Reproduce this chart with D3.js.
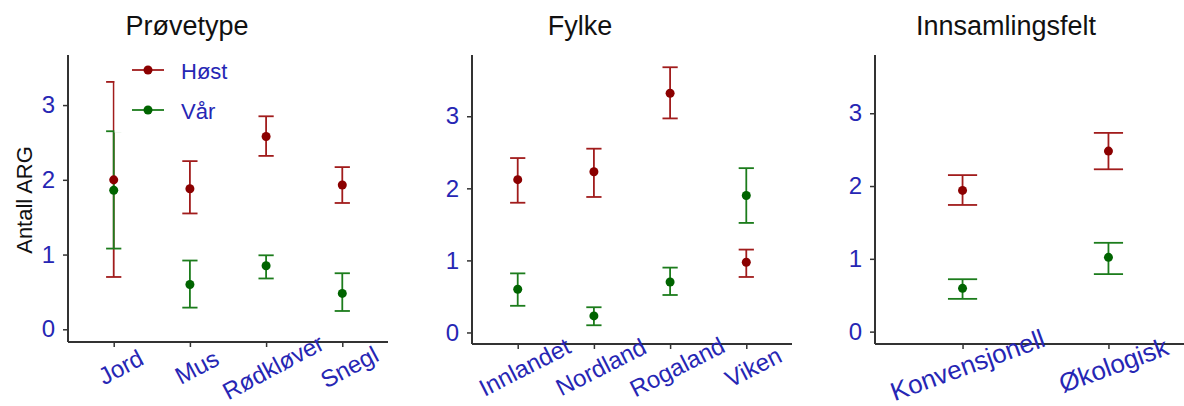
<!DOCTYPE html>
<html>
<head>
<meta charset="utf-8">
<title>Antall ARG</title>
<script src="https://cdn.jsdelivr.net/npm/d3@7"></script>
<style>
  body { margin: 0; background: #fff; }
  svg text { font-family: "Liberation Sans", Arial, sans-serif; }
</style>
</head>
<body>
<script>
// ---- data ----
var seasons = ["Høst", "Vår"];
var yTicks = [0, 1, 2, 3];

var provetype = ["Jord", "Mus", "Rødkløver", "Snegl"];
var provHostMean = [2.00, 1.88, 2.58, 1.93];
var provHostLo   = [0.70, 1.55, 2.32, 1.69];
var provHostHi   = [3.31, 2.25, 2.85, 2.17];
var provVarMean  = [1.86, 0.60, 0.85, 0.48];
var provVarLo    = [1.08, 0.29, 0.68, 0.245];
var provVarHi    = [2.65, 0.92, 0.99, 0.75];

var fylke = ["Innlandet", "Nordland", "Rogaland", "Viken"];
var fylkeHostMean = [2.12, 2.23, 3.32, 0.975];
var fylkeHostLo   = [1.80, 1.88, 2.97, 0.77];
var fylkeHostHi   = [2.42, 2.55, 3.68, 1.15];
var fylkeVarMean  = [0.60, 0.23, 0.70, 1.90];
var fylkeVarLo    = [0.37, 0.10, 0.52, 1.52];
var fylkeVarHi    = [0.82, 0.35, 0.90, 2.28];

var felt = ["Konvensjonell", "Økologisk"];
var feltHostMean = [1.94, 2.48];
var feltHostLo   = [1.74, 2.23];
var feltHostHi   = [2.15, 2.73];
var feltVarMean  = [0.595, 1.02];
var feltVarLo    = [0.45, 0.79];
var feltVarHi    = [0.72, 1.22];

// ---- styling ----
var barColor = { "Høst": "#a11c1c", "Vår": "#1c7c1c" };
var dotColor = { "Høst": "#8b0000", "Vår": "#006400" };
var labelBlue = "#2626b4";
var axisColor = "#333";

var width = 1184, height = 406;

var svg = d3.select("body").append("svg")
    .attr("width", width)
    .attr("height", height);

function rows(cats, hm, hl, hh, vm, vl, vh) {
  var out = [];
  cats.forEach(function(c, i) { out.push({ cat: c, s: "Høst", m: hm[i], lo: hl[i], hi: hh[i] }); });
  cats.forEach(function(c, i) { out.push({ cat: c, s: "Vår", m: vm[i], lo: vl[i], hi: vh[i] }); });
  return out;
}

var panels = [
  { title: "Prøvetype", titleX: 187, cats: provetype, x0: 68, x1: 388, y0: 342, ymin: -0.17, ymax: 3.67,
    labAngle: 28, labSize: 24, labDx: 7, labY: 367,
    data: rows(provetype, provHostMean, provHostLo, provHostHi, provVarMean, provVarLo, provVarHi), legend: true },
  { title: "Fylke", titleX: 580, cats: fylke, x0: 472, x1: 792, y0: 344, ymin: -0.16, ymax: 3.85,
    labAngle: 27, labSize: 24, labDx: 7, labY: 367,
    data: rows(fylke, fylkeHostMean, fylkeHostLo, fylkeHostHi, fylkeVarMean, fylkeVarLo, fylkeVarHi) },
  { title: "Innsamlingsfelt", titleX: 1006, cats: felt, x0: 875, x1: 1196, y0: 344, ymin: -0.17, ymax: 3.80,
    labAngle: 20, labSize: 26, labDx: 5, labY: 365,
    data: rows(felt, feltHostMean, feltHostLo, feltHostHi, feltVarMean, feltVarLo, feltVarHi) }
];

panels.forEach(function(p) {
  var g = svg.append("g");
  var x = d3.scalePoint().domain(p.cats).range([p.x0, p.x1]).padding(0.6);
  var y = d3.scaleLinear().domain([p.ymin, p.ymax]).range([p.y0, 55]);
  var capW = x.step() * 0.2;

  // error bars
  var eb = g.selectAll(".eb").data(p.data).enter().append("g")
      .attr("stroke", function(d) { return barColor[d.s]; })
      .attr("stroke-width", 1.8)
      .attr("fill", "none");
  eb.append("line")
      .attr("x1", function(d) { return x(d.cat); }).attr("x2", function(d) { return x(d.cat); })
      .attr("y1", function(d) { return y(d.lo); }).attr("y2", function(d) { return y(d.hi); });
  eb.append("line")
      .attr("x1", function(d) { return x(d.cat) - capW / 2; }).attr("x2", function(d) { return x(d.cat) + capW / 2; })
      .attr("y1", function(d) { return y(d.hi); }).attr("y2", function(d) { return y(d.hi); });
  eb.append("line")
      .attr("x1", function(d) { return x(d.cat) - capW / 2; }).attr("x2", function(d) { return x(d.cat) + capW / 2; })
      .attr("y1", function(d) { return y(d.lo); }).attr("y2", function(d) { return y(d.lo); });

  // points
  g.selectAll(".pt").data(p.data).enter().append("circle")
      .attr("cx", function(d) { return x(d.cat); })
      .attr("cy", function(d) { return y(d.m); })
      .attr("r", 4.5)
      .attr("fill", function(d) { return dotColor[d.s]; });

  // y axis
  var yAxis = g.append("g").attr("transform", "translate(" + p.x0 + ",0)")
      .call(d3.axisLeft(y).tickValues(yTicks).tickSize(5).tickPadding(8).tickFormat(d3.format("d")));
  yAxis.select(".domain").remove();
  yAxis.append("line").attr("x1", 0).attr("x2", 0).attr("y1", 55).attr("y2", p.y0)
      .attr("stroke", axisColor).attr("stroke-width", 2);
  yAxis.selectAll(".tick line").attr("stroke", axisColor).attr("stroke-width", 1.5);
  yAxis.selectAll(".tick text").attr("fill", labelBlue)
      .style("font-size", "24px").style("font-family", "'Liberation Sans', Arial, sans-serif");

  // x axis
  var xAxis = g.append("g").attr("transform", "translate(0," + p.y0 + ")")
      .call(d3.axisBottom(x).tickSize(5).tickFormat(""));
  xAxis.select(".domain").remove();
  xAxis.append("line").attr("x1", p.x0).attr("x2", p.x1).attr("y1", 0).attr("y2", 0)
      .attr("stroke", axisColor).attr("stroke-width", 2);
  xAxis.selectAll(".tick line").attr("stroke", axisColor).attr("stroke-width", 1.5);

  // rotated category labels
  g.selectAll(".xl").data(p.cats).enter().append("text")
      .attr("transform", function(d) { return "translate(" + (x(d) + p.labDx) + "," + p.labY + ") rotate(" + (-p.labAngle) + ")"; })
      .attr("text-anchor", "middle")
      .attr("dy", "0.35em")
      .attr("fill", labelBlue)
      .style("font-size", p.labSize + "px")
      .text(function(d) { return d; });

  // title
  svg.append("text")
      .attr("x", p.titleX).attr("y", 35)
      .attr("text-anchor", "middle")
      .attr("fill", "#111")
      .style("font-size", "27px")
      .text(p.title);

  if (p.legend) {
    // legend box sits on top of the data
    var lg = svg.append("g");
    lg.append("rect").attr("x", 114.5).attr("y", 50).attr("width", 130).attr("height", 82.5)
        .attr("fill", "#fff");
    seasons.forEach(function(s, i) {
      var ly = 70 + i * 40;
      lg.append("line").attr("x1", 132).attr("x2", 164).attr("y1", ly).attr("y2", ly)
          .attr("stroke", barColor[s]).attr("stroke-width", 1.8);
      lg.append("circle").attr("cx", 148).attr("cy", ly).attr("r", 4.5).attr("fill", dotColor[s]);
      lg.append("text").attr("x", 181).attr("y", ly + 9)
          .attr("fill", labelBlue).style("font-size", "22px").text(s);
    });
  }
});

// y axis title
svg.append("text")
    .attr("transform", "translate(24,200) rotate(-90)")
    .attr("text-anchor", "middle")
    .attr("dy", "0.35em")
    .attr("fill", "#111")
    .style("font-size", "22px")
    .text("Antall ARG");
</script>
</body>
</html>
